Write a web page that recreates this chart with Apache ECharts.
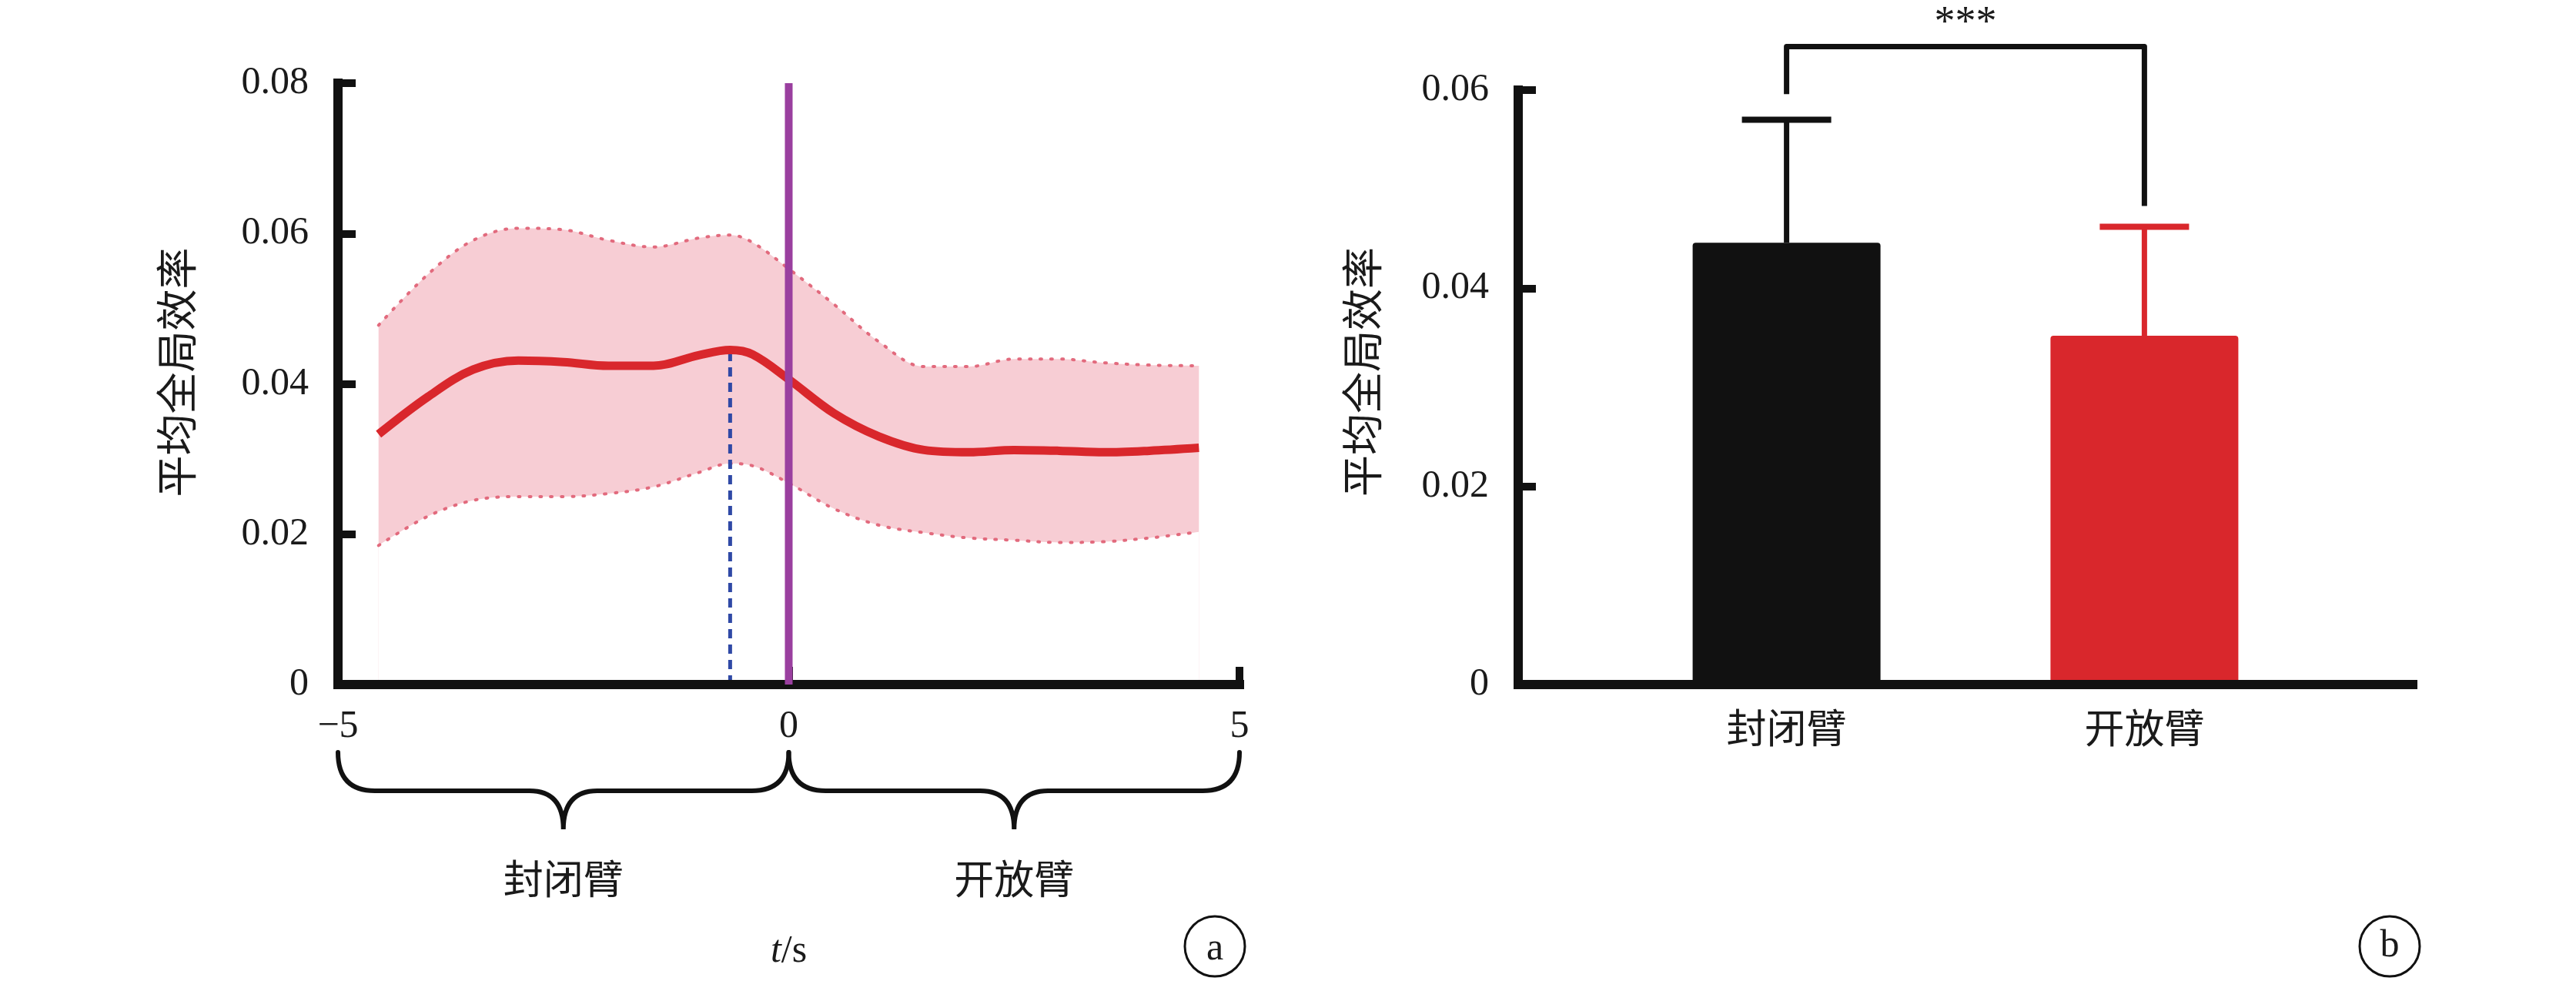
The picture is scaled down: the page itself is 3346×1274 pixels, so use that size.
<!DOCTYPE html>
<html><head><meta charset="utf-8">
<script src="https://cdn.jsdelivr.net/npm/echarts@6/dist/echarts.min.js"></script>
<style>html,body{margin:0;padding:0;background:#fff}#c{width:3346px;height:1274px}</style>
</head><body><div id="c"></div>
<script>
// ---- data (a): time course ----
const timeSec  = [-4.55,-4.0,-3.5,-3.0,-2.5,-2.0,-1.5,-1.0,-0.65,-0.4,0,0.5,1.0,1.5,2.0,2.5,3.0,3.5,4.0,4.55];
const meanEff  = [0.0333,0.0383,0.0419,0.0431,0.0429,0.0424,0.0424,0.0438,0.0445,0.0439,0.0406,0.0361,0.0330,0.0312,0.0309,0.0312,0.0311,0.0309,0.0311,0.0315];
const upperEff = [0.0478,0.0546,0.0591,0.0607,0.0605,0.0591,0.0582,0.0594,0.0598,0.0588,0.0553,0.0506,0.0456,0.0423,0.0423,0.0433,0.0433,0.0428,0.0425,0.0424];
const lowerEff = [0.0185,0.0224,0.0245,0.0250,0.0250,0.0254,0.0263,0.0282,0.0294,0.0291,0.0268,0.0234,0.0212,0.0202,0.0195,0.0192,0.0189,0.0190,0.0195,0.0203];
const phaseNames = ['封闭臂','开放臂'];
const phaseSpans = [[-5,0],[0,5]];
const onsetTime = 0;
const onsetTop = 0.08;
const peakIdx = meanEff.indexOf(Math.max.apply(null, meanEff));
// ---- data (b): bars ----
const barCategories = ['封闭臂','开放臂'];
const barMean  = [0.0446, 0.0352];
const barUpper = [0.0570, 0.0462];
const sigLegEnds = [0.0596, 0.0483];
const sigTop = 0.0644;
const sigLabel = '***';

const serif = "'Liberation Serif','Times New Roman',serif";
const cjk = "'Liberation Serif','Noto Sans CJK SC',serif";
const ink = '#1a1a1a';
const red = '#d9272c';
const blk = '#111111';
const axisLineX = {show:true, onZero:true, lineStyle:{color:blk, width:12, cap:'square'}};
const axisLineY = {show:true, onZero:false, lineStyle:{color:blk, width:12, cap:'square'}};
const tickIn = {show:true, inside:true, length:23, lineStyle:{width:10, color:blk}};

const chart = echarts.init(document.getElementById('c'));
chart.setOption({
  backgroundColor:'#fff',
  animation:false,
  grid:[
    {left:439, top:108, width:1171, height:781},
    {left:1972, top:117, width:1162, height:772}
  ],
  xAxis:[
    {gridIndex:0, type:'value', min:-5, max:5, interval:5, z:5,
     axisLine:axisLineX, axisTick:tickIn, splitLine:{show:false},
     axisLabel:{fontFamily:serif, fontSize:50, color:ink, margin:30,
       formatter:function(v){return v<0 ? '\u2212'+Math.abs(v) : String(v);}},
     name:'{i|t}/s', nameLocation:'middle', nameGap:322,
     nameTextStyle:{fontFamily:serif, fontSize:50, color:ink,
       rich:{i:{fontStyle:'italic', fontFamily:serif, fontSize:50, color:ink}}}},
    {gridIndex:1, type:'value', min:-0.75, max:1.75, z:5,
     axisLine:axisLineX, axisTick:{show:false}, axisLabel:{show:false}, splitLine:{show:false}}
  ],
  yAxis:[
    {gridIndex:0, type:'value', min:0, max:0.08, interval:0.02, z:5,
     axisLine:axisLineY, axisTick:tickIn, splitLine:{show:false},
     axisLabel:{fontFamily:serif, fontSize:50, color:ink, margin:38},
     name:'平均全局效率', nameLocation:'middle', nameRotate:90, nameGap:176,
     nameTextStyle:{fontFamily:cjk, fontSize:54, color:ink, padding:[0,0,0,30]}},
    {gridIndex:1, type:'value', min:0, max:0.06, interval:0.02, z:5,
     axisLine:axisLineY, axisTick:tickIn, splitLine:{show:false},
     axisLabel:{fontFamily:serif, fontSize:50, color:ink, margin:38},
     name:'平均全局效率', nameLocation:'middle', nameRotate:90, nameGap:169,
     nameTextStyle:{fontFamily:cjk, fontSize:54, color:ink, padding:[0,0,0,40]}}
  ],
  series:[
    {type:'line', xAxisIndex:0, yAxisIndex:0, z:1, smooth:0.35, symbol:'none', silent:true,
     data: timeSec.map(function(t,i){return [t, upperEff[i]];}),
     lineStyle:{color:'#e26a7d', width:4, type:[2,12], cap:'round'},
     areaStyle:{color:'#f7cdd4', opacity:1}},
    {type:'line', xAxisIndex:0, yAxisIndex:0, z:2, smooth:0.35, symbol:'none', silent:true,
     data: timeSec.map(function(t,i){return [t, lowerEff[i]];}),
     lineStyle:{color:'#e26a7d', width:4, type:[2,12], cap:'round'},
     areaStyle:{color:'#ffffff', opacity:1}},
    {type:'line', xAxisIndex:0, yAxisIndex:0, z:3, symbol:'none', silent:true,
     data:[[timeSec[peakIdx],0],[timeSec[peakIdx],meanEff[peakIdx]]],
     lineStyle:{color:'#2f49a6', width:5, type:[12,8]}},
    {type:'line', xAxisIndex:0, yAxisIndex:0, z:4, smooth:0.35, symbol:'none', silent:true,
     data: timeSec.map(function(t,i){return [t, meanEff[i]];}),
     lineStyle:{color:red, width:11}},
    {type:'line', xAxisIndex:0, yAxisIndex:0, z:6, symbol:'none', silent:true,
     data:[[onsetTime,0],[onsetTime,onsetTop]],
     lineStyle:{color:'#9a3f9f', width:10}},
    {type:'custom', xAxisIndex:0, yAxisIndex:0, clip:false, silent:true, z:3,
     data: phaseSpans.map(function(s,i){return [s[0], s[1], i];}),
     renderItem:function(params, api){
       var p0 = api.coord([api.value(0),0]), p1 = api.coord([api.value(1),0]);
       var idx = api.value(2);
       var x0=p0[0], x1=p1[0], y0=p0[1];
       var yT=y0+88, yM=y0+138, yB=y0+188, xm=(x0+x1)/2, rE=48, rM=44;
       var d = 'M'+x0+','+yT+' Q'+x0+','+yM+' '+(x0+rE)+','+yM+
               ' L'+(xm-rM)+','+yM+' Q'+xm+','+yM+' '+xm+','+yB+
               ' Q'+xm+','+yM+' '+(xm+rM)+','+yM+
               ' L'+(x1-rE)+','+yM+' Q'+x1+','+yM+' '+x1+','+yT;
       return {type:'group', children:[
         {type:'path', shape:{pathData:d}, style:{fill:null, stroke:blk, lineWidth:6, lineCap:'round'}},
         {type:'text', x:xm, y:y0+258, style:{text:phaseNames[idx], font:'52px '+cjk, fill:ink, align:'center', verticalAlign:'middle'}}
       ]};
     }},
    {type:'bar', xAxisIndex:1, yAxisIndex:1, barWidth:244, z:2, silent:true,
     data: barMean.map(function(v,i){return {value:[i,v], itemStyle:{color: i ? red : blk, borderRadius:[4,4,0,0]}};}),
     label:{show:true, position:'bottom', distance:36, fontFamily:cjk, fontSize:52, color:ink,
       formatter:function(p){return barCategories[p.dataIndex];}}},
    {type:'custom', xAxisIndex:1, yAxisIndex:1, clip:false, silent:true, z:3,
     data: barMean.map(function(v,i){return [i, v, barUpper[i]];}),
     renderItem:function(params, api){
       var i = api.value(0);
       var pb = api.coord([i, api.value(1)]), pt = api.coord([i, api.value(2)]);
       var col = i ? red : blk;
       return {type:'group', children:[
         {type:'line', shape:{x1:pb[0], y1:pb[1], x2:pt[0], y2:pt[1]}, style:{stroke:col, lineWidth:7}},
         {type:'line', shape:{x1:pt[0]-58, y1:pt[1], x2:pt[0]+58, y2:pt[1]}, style:{stroke:col, lineWidth:8}}
       ]};
     }},
    {type:'custom', xAxisIndex:1, yAxisIndex:1, clip:false, silent:true, z:3,
     data:[[0, sigLegEnds[0], 1, sigLegEnds[1], sigTop]],
     renderItem:function(params, api){
       var a = api.coord([api.value(0), api.value(1)]);
       var at = api.coord([api.value(0), api.value(4)]);
       var bt = api.coord([api.value(2), api.value(4)]);
       var b = api.coord([api.value(2), api.value(3)]);
       return {type:'group', children:[
         {type:'polyline', shape:{points:[a, at, bt, b]}, style:{stroke:blk, lineWidth:7, fill:null, lineJoin:'round'}},
         {type:'text', x:(at[0]+bt[0])/2, y:at[1]-30, style:{text:sigLabel, font:'54px '+serif, fill:ink, align:'center', verticalAlign:'middle'}}
       ]};
     }}
  ],
  graphic:[
    {type:'circle', shape:{cx:1578, cy:1229, r:39}, style:{fill:'#fff', stroke:blk, lineWidth:3}},
    {type:'text', x:1578, y:1233, style:{text:'a', font:'50px '+serif, fill:ink, align:'center', verticalAlign:'middle'}},
    {type:'circle', shape:{cx:3104, cy:1229, r:39}, style:{fill:'#fff', stroke:blk, lineWidth:3}},
    {type:'text', x:3104, y:1229, style:{text:'b', font:'50px '+serif, fill:ink, align:'center', verticalAlign:'middle'}}
  ]
});
</script></body></html>
